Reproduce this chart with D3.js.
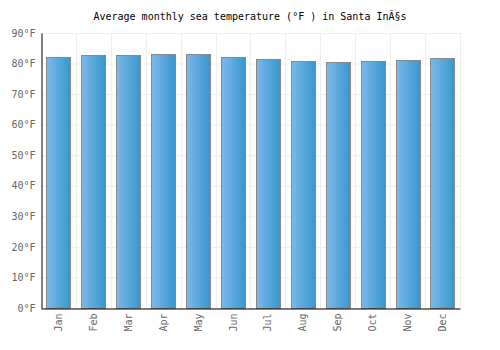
<!DOCTYPE html>
<html lang="en">
<head>
<meta charset="utf-8">
<script src="https://d3js.org/d3.v7.min.js"></script>
<style>
  body { margin: 0; background: #fff; }
  svg { display: block; }
  text { font-family: 'DejaVu Sans Mono', monospace; }
  .title { font-size: 10px; fill: #000; }
  .tick text { font-size: 10px; fill: #666; }
  .grid line { stroke: #eee; }
  .grid path { stroke-width: 0; }
  .bar { stroke: #888; stroke-width: 1; }
</style>
</head>
<body>
<svg width="500" height="350"></svg>
<script>
  const months = ['Jan','Feb','Mar','Apr','May','Jun','Jul','Aug','Sep','Oct','Nov','Dec'];
  const temps = [82.3, 82.7, 82.7, 83.0, 83.0, 82.3, 81.4, 80.7, 80.4, 80.7, 81.0, 81.7];
  const yTicks = [0, 10, 20, 30, 40, 50, 60, 70, 80, 90];

  const svg = d3.select('svg');
  const plotLeft = 41, plotRight = 460, plotTop = 33, plotBottom = 308;

  const defs = svg.append('defs');
  const grad = defs.append('linearGradient')
      .attr('id', 'barGrad')
      .attr('x1', '0%').attr('x2', '100%').attr('y1', '0%').attr('y2', '0%');
  grad.append('stop').attr('offset', '0%').attr('stop-color', '#7cb9ea');
  grad.append('stop').attr('offset', '100%').attr('stop-color', '#3896ce');

  const x = d3.scaleBand().domain(months).range([plotLeft, plotRight]).paddingInner(0.31).paddingOuter(0.155);
  const xGrid = d3.scaleBand().domain(months).range([plotLeft, plotRight]);
  const y = d3.scaleLinear().domain([0, 90]).range([plotBottom, plotTop]);

  // horizontal grid
  svg.append('g')
      .attr('class', 'grid')
      .attr('transform', `translate(${plotLeft},0)`)
      .call(d3.axisLeft(y).tickValues(yTicks).tickSize(-(plotRight - plotLeft)).tickFormat(''));

  // vertical grid at band boundaries
  svg.append('g').attr('class', 'grid')
    .selectAll('line')
    .data(months)
    .enter().append('line')
      .attr('x1', d => Math.round(xGrid(d) + xGrid.bandwidth()) + 0.5)
      .attr('x2', d => Math.round(xGrid(d) + xGrid.bandwidth()) + 0.5)
      .attr('y1', plotTop)
      .attr('y2', plotBottom);

  svg.append('g')
    .selectAll('rect')
    .data(temps)
    .enter().append('rect')
      .attr('class', 'bar')
      .attr('fill', 'url(#barGrad)')
      .attr('x', (d, i) => Math.round(x(months[i])) + 0.5)
      .attr('width', Math.round(x.bandwidth()))
      .attr('y', d => Math.round(y(d)) + 0.5)
      .attr('height', d => plotBottom - Math.round(y(d)));

  // y axis
  const yAxis = svg.append('g')
      .attr('transform', `translate(${plotLeft + 0.5},0)`)
      .call(d3.axisLeft(y).tickValues(yTicks).tickSize(0).tickPadding(6).tickFormat(d => d + '°F'));
  yAxis.select('.domain').attr('stroke', '#000');

  // x axis
  const xAxis = svg.append('g')
      .attr('transform', `translate(0,${plotBottom + 0.5})`)
      .call(d3.axisBottom(x).tickSize(0));
  xAxis.select('.domain').attr('stroke', '#000');
  xAxis.selectAll('.tick text')
      .attr('transform', 'rotate(-90)')
      .attr('text-anchor', 'end')
      .attr('x', -5)
      .attr('y', 0)
      .attr('dy', '0.35em');

  svg.append('text')
      .attr('class', 'title')
      .attr('x', 250)
      .attr('y', 20)
      .attr('text-anchor', 'middle')
      .text('Average monthly sea temperature (°F ) in Santa InÃ§s');
</script>
</body>
</html>
